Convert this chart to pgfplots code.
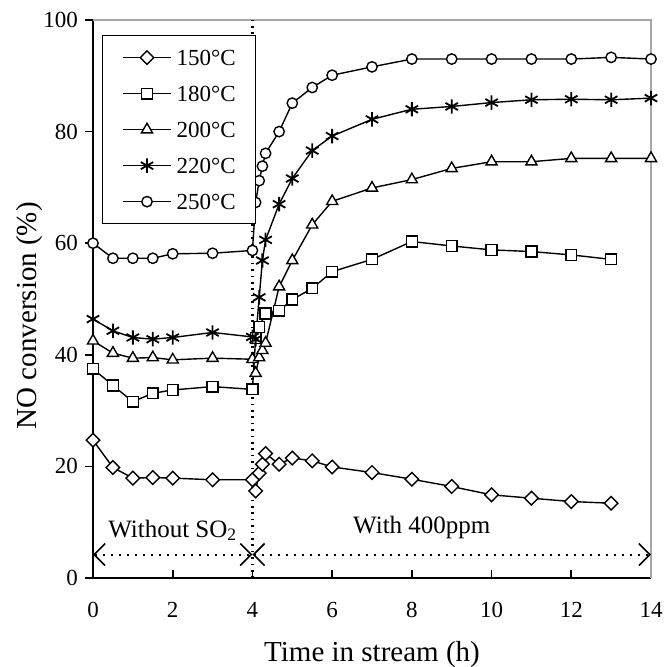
\documentclass[border=0pt]{standalone}
\usepackage{fontspec}
\setmainfont{Liberation Serif}
\usepackage{pgfplots}
\pgfplotsset{compat=1.18}
\usetikzlibrary{arrows.meta}

\begin{document}
\begin{tikzpicture}
\useasboundingbox (-46.5pt,-44.5pt) rectangle (285.5pt,289pt);
\begin{axis}[
  scale only axis,
  width=279pt, height=279pt,
  xmin=0, xmax=14, ymin=0, ymax=100,
  xtick={0,2,...,14}, ytick={0,20,...,100},
  axis x line*=bottom, axis y line*=left,
  x axis line style={line width=0.9pt},
  y axis line style={line width=0.8pt},
  xtick align=inside, ytick align=outside,
  major tick length=4pt,
  every tick/.style={black, line width=0.8pt},
  /pgf/number format/assume math mode=true,
  tick label style={font=\fontsize{11.5}{13}\selectfont},
  xticklabel style={yshift=-8.5pt},
  xlabel={Time in stream (h)},
  ylabel={NO conversion (\%)},
  label style={font=\fontsize{14.5}{16}\selectfont},
  xlabel style={at={(axis description cs:0.5,-0.138)}, anchor=center},
  ylabel style={at={(axis description cs:-0.113,0.47)}, anchor=center},
  clip=false,
  legend style={at={(axis description cs:0.0156,0.973)}, anchor=north west,
    draw=black, line width=0.6pt, font=\fontsize{11.5}{13}\selectfont,
    nodes={inner sep=0pt, text height=8pt, text depth=0pt},
    row sep=10pt, column sep=2.5pt, inner xsep=10pt, inner ysep=7pt},
  legend cell align=left,
  legend image code/.code={
    \draw[mark repeat=2, mark phase=2] plot coordinates {(0pt,0pt) (12pt,0pt) (24pt,0pt)};
  },
]
% 150 C
\addplot[black, line width=0.7pt, mark=square*, mark size=2.4pt,
  mark options={rotate=45, solid, fill=white, line width=0.7pt}] coordinates {
  (0,24.7) (0.5,19.8) (1,17.9) (1.5,18.0) (2,17.9) (3,17.6) (4,17.6)
  (4.08,15.6) (4.17,18.8) (4.25,20.4) (4.33,22.3) (4.67,20.4) (5,21.5)
  (5.5,21.0) (6,19.9) (7,18.9) (8,17.7) (9,16.4) (10,14.9) (11,14.3)
  (12,13.7) (13,13.4)};
% 180 C
\addplot[black, line width=0.7pt, mark=square*, mark size=2.7pt,
  mark options={solid, fill=white, line width=0.7pt}] coordinates {
  (0,37.5) (0.5,34.5) (1,31.6) (1.5,33.1) (2,33.7) (3,34.3) (4,33.8)
  (4.08,43.0) (4.17,45.0) (4.33,47.4) (4.67,47.9) (5,49.9) (5.5,51.9)
  (6,54.9) (7,57.1) (8,60.3) (9,59.5) (10,58.8) (11,58.5) (12,57.9)
  (13,57.1)};
% 200 C
\addplot[black, line width=0.7pt, mark=triangle*, mark size=3.2pt,
  mark options={solid, fill=white, line width=0.7pt}] coordinates {
  (0,42.5) (0.5,40.3) (1,39.4) (1.5,39.5) (2,39.1) (3,39.4) (4,39.2)
  (4.08,36.7) (4.17,39.5) (4.25,40.8) (4.33,42.1) (4.67,52.2) (5,56.9)
  (5.5,63.3) (6,67.5) (7,69.9) (8,71.4) (9,73.4) (10,74.6) (11,74.6)
  (12,75.2) (13,75.2) (14,75.2)};
% 220 C
\addplot[black, line width=0.7pt, mark=asterisk, mark size=3.6pt,
  mark options={solid, line width=0.9pt}] coordinates {
  (0,46.4) (0.5,44.3) (1,43.1) (1.5,42.8) (2,43.1) (3,44.0) (4,43.2)
  (4.08,42.8) (4.17,50.3) (4.25,56.9) (4.33,60.6) (4.67,67.0) (5,71.6)
  (5.5,76.6) (6,79.2) (7,82.2) (8,84.0) (9,84.5) (10,85.2) (11,85.7)
  (12,85.8) (13,85.7) (14,86.0)};
% 250 C
\addplot[black, line width=0.7pt, mark=*, mark size=2.6pt,
  mark options={solid, fill=white, line width=0.7pt}] coordinates {
  (0,60.0) (0.5,57.3) (1,57.3) (1.5,57.3) (2,58.1) (3,58.2) (4,58.7)
  (4.08,67.3) (4.17,71.2) (4.25,73.8) (4.33,76.1) (4.67,80.0) (5,85.1)
  (5.5,87.9) (6,90.1) (7,91.6) (8,93.0) (9,93.0) (10,93.0) (11,93.0)
  (12,93.0) (13,93.3) (14,93.0)};
\legend{150°C,180°C,200°C,220°C,250°C}

% frame and annotations
\draw[gray!70, line width=0.7pt] (rel axis cs:0,1) -- (rel axis cs:1,1) -- (rel axis cs:1,0);
\draw[line width=1.1pt, dash pattern=on 0.8pt off 2.4pt] (axis cs:4,0) -- (axis cs:4,100);
\draw[line width=1pt, dash pattern=on 1pt off 3pt,
  {Straight Barb[length=5.5pt, width=11pt, line width=0.8pt]}-{Straight Barb[length=5.5pt, width=11pt, line width=0.8pt]}]
  (axis cs:0,4.2) -- (axis cs:4,4.2);
\draw[line width=1pt, dash pattern=on 1pt off 3pt,
  {Straight Barb[length=5.5pt, width=11pt, line width=0.8pt]}-{Straight Barb[length=5.5pt, width=11pt, line width=0.8pt]}]
  (axis cs:4,4.2) -- (axis cs:14,4.2);
\node[anchor=base, font=\fontsize{12.5}{14}\selectfont] at (axis cs:2.0,7.3) {Without SO\textsubscript{2}};
\node[anchor=base, font=\fontsize{12.5}{14}\selectfont] at (axis cs:8.25,8.0) {With 400ppm};
\end{axis}
\end{tikzpicture}
\end{document}
